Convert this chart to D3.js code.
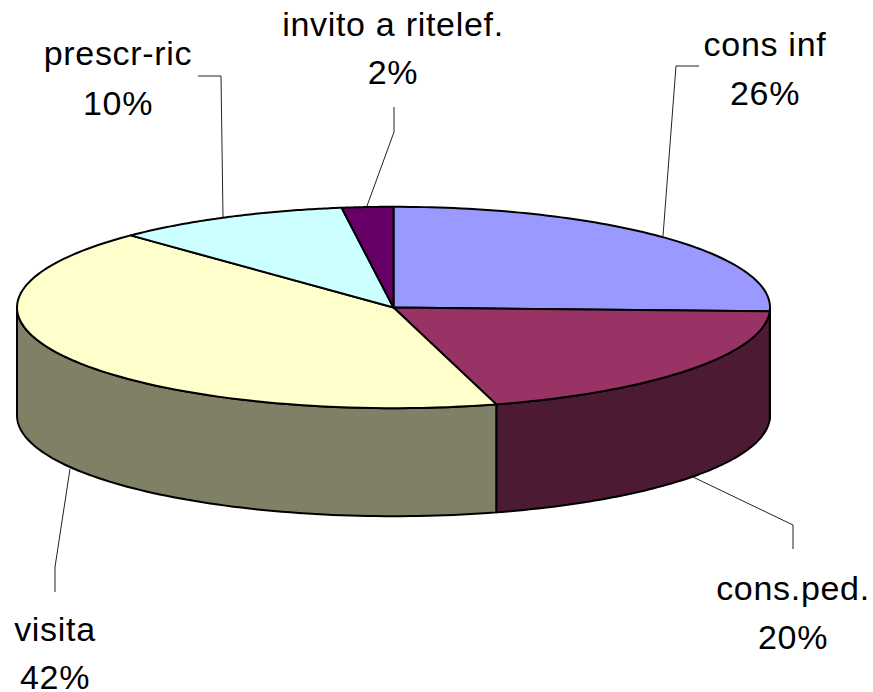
<!DOCTYPE html>
<html>
<head>
<meta charset="utf-8">
<script src="https://cdn.jsdelivr.net/npm/d3@7"></script>
<style>html,body{margin:0;padding:0;background:#fff}svg{display:block}text{font-family:"Liberation Sans",Arial,sans-serif;fill:#000;letter-spacing:0.7px}</style>
</head>
<body>
<svg id="chart" width="873" height="692"></svg>
<script>
const categories = ["cons inf", "cons.ped.", "visita", "prescr-ric", "invito a ritelef."];
const shares = [25.6, 20.0, 42.1, 10.1, 2.2];
const topColors = ["#9999FF", "#993366", "#FFFFCC", "#CCFFFF", "#660066"];
const sideColors = ["#4D4D80", "#4D1A33", "#808066", "#668080", "#330033"];

const W = 873, H = 692;
const cx = 393.5, cy = 307.5, rx = 376.5, ry = 100.7, depth = 108;
const fontSize = 34;
// label anchor: [x, baseline of name, baseline of percentage]; leader polyline in pixels
const labelLayout = [
  {x: 765, y1: 56,  y2: 105, leader: [[699,66],[676,66],[663,236]]},
  {x: 793, y1: 600, y2: 649, leader: [[693,477],[793,525],[793,549]]},
  {x: 55,  y1: 641, y2: 689, leader: [[70,469],[55,567],[55,592]]},
  {x: 118, y1: 65,  y2: 115, leader: [[198,76],[221,76],[223,217]]},
  {x: 393, y1: 36,  y2: 84,  leader: [[394,107],[394,132],[367,206]]}
];

const svg = d3.select("#chart");
const pie = d3.pie().sort(null).startAngle(0).endAngle(2 * Math.PI);
const slices = pie(shares);

// Elliptical projection scales of the tilted disc.
const sx = d3.scaleLinear().domain([-1, 1]).range([cx - rx, cx + rx]);
const sy = d3.scaleLinear().domain([-1, 1]).range([cy - ry, cy + ry]);
const px = a => sx(Math.sin(a));
const py = a => sy(-Math.cos(a));
const line = d3.line();
const sample = (a0, a1) => d3.range(0, 81).map(i => a0 + (a1 - a0) * i / 80);

// Side walls: only the front half of the disc (90deg..270deg) is visible.
const front = slices.map((s, i) => ({
  a0: Math.max(s.startAngle, Math.PI / 2),
  a1: Math.min(s.endAngle, 3 * Math.PI / 2),
  i
})).filter(d => d.a1 > d.a0);

svg.append("g").selectAll("path").data(front).join("path")
  .attr("d", d => {
    const t = sample(d.a0, d.a1);
    const upper = t.map(a => [px(a), py(a)]);
    const lower = t.slice().reverse().map(a => [px(a), py(a) + depth]);
    return line(upper.concat(lower)) + "Z";
  })
  .attr("fill", d => sideColors[d.i])
  .attr("stroke", "#000").attr("stroke-width", 2).attr("stroke-linejoin", "round");

// Top face
svg.append("g").selectAll("path").data(slices).join("path")
  .attr("d", d => {
    const pts = sample(d.startAngle, d.endAngle).map(a => [px(a), py(a)]);
    return line([[cx, cy]].concat(pts)) + "Z";
  })
  .attr("fill", (d, i) => topColors[i])
  .attr("stroke", "#000").attr("stroke-width", 2).attr("stroke-linejoin", "round");

// Leaders
svg.append("g").selectAll("path").data(labelLayout).join("path")
  .attr("d", d => line(d.leader))
  .attr("fill", "none").attr("stroke", "#222").attr("stroke-width", 1);

// Labels
const pct = d3.format(".0f");
const labels = svg.append("g").selectAll("g").data(categories).join("g");
labels.append("text")
  .attr("x", (d, i) => labelLayout[i].x).attr("y", (d, i) => labelLayout[i].y1)
  .attr("text-anchor", "middle").attr("font-size", fontSize).text(d => d);
labels.append("text")
  .attr("x", (d, i) => labelLayout[i].x).attr("y", (d, i) => labelLayout[i].y2)
  .attr("text-anchor", "middle").attr("font-size", fontSize)
  .text((d, i) => pct(shares[i]) + "%");
</script>
</body>
</html>
